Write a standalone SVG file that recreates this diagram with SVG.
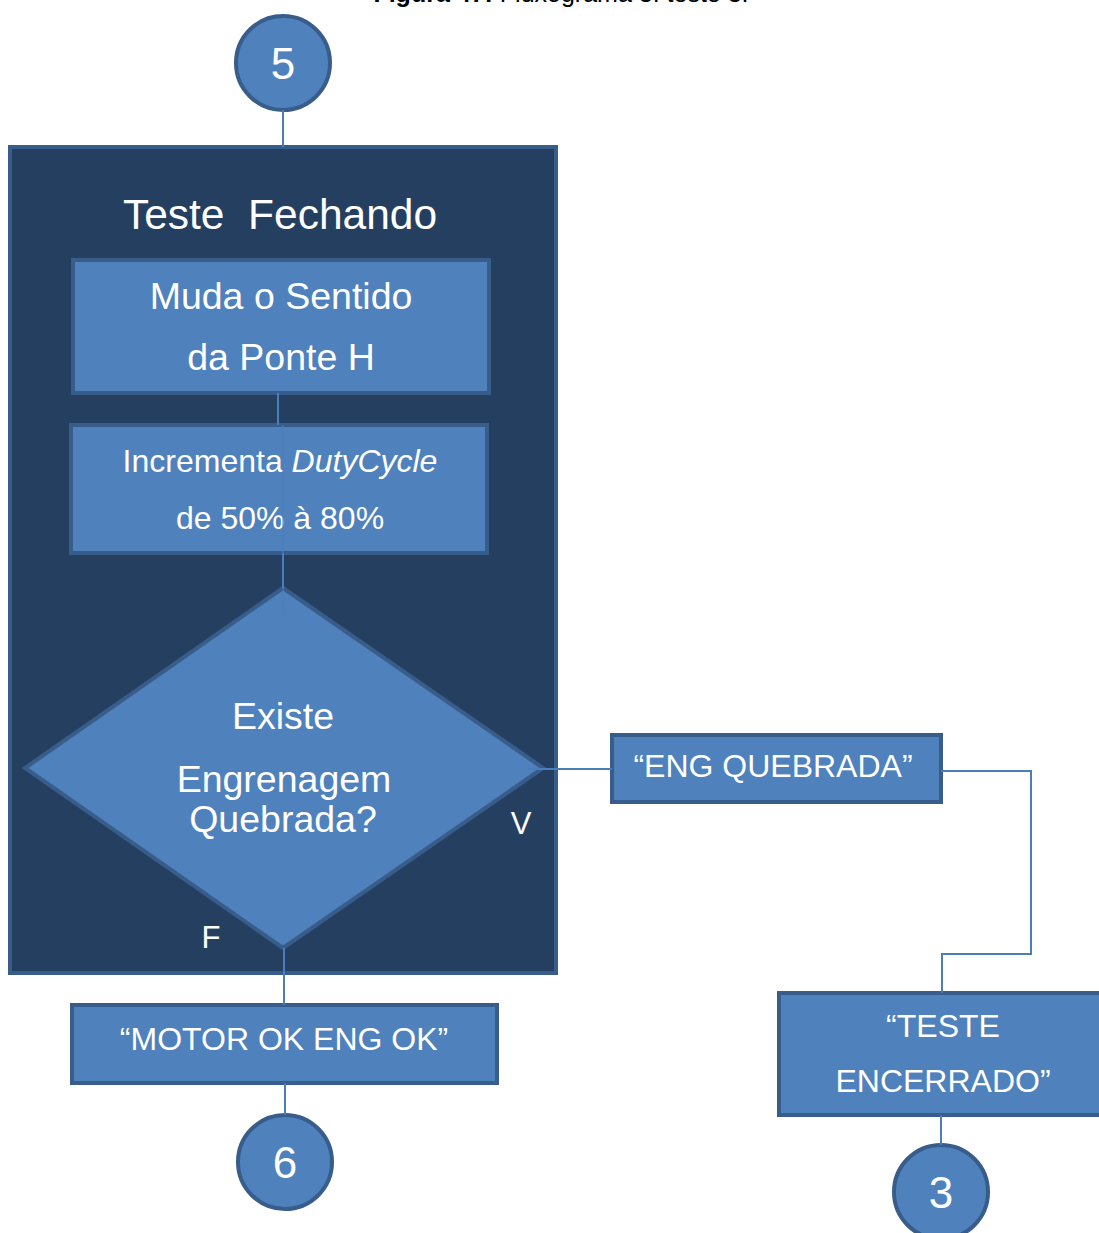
<svg xmlns="http://www.w3.org/2000/svg" width="1099" height="1233" viewBox="0 0 1099 1233">
  <style>
    .shape { fill: #4f81bd; stroke: #385d8a; stroke-width: 4; }
    .frame { fill: #253f60; stroke: #385d8a; stroke-width: 4; }
    .conn { fill: none; stroke: #4a7ebb; stroke-width: 2; }
    text { font-family: "Liberation Sans", Arial, sans-serif; fill: #ffffff; text-anchor: middle; }
    .cap { fill: #000000; font-size: 25px; }
  </style>
  <rect width="1099" height="1233" fill="#ffffff"/>

  <!-- caption, clipped at the top edge -->
  <text class="cap" x="561" y="2"><tspan font-weight="bold">Figura 47:</tspan> Fluxograma 3: teste 3.</text>

  <!-- container for the closing test -->
  <g id="teste-fechando">
    <rect class="frame" x="10" y="147" width="546" height="826"/>
    <text x="280" y="229" font-size="42.5" xml:space="preserve">Teste  Fechando</text>
  </g>

  <g id="conector-5">
    <circle class="shape" cx="283" cy="63" r="47"/>
    <text x="283" y="79" font-size="44">5</text>
  </g>

  <g id="muda-sentido">
    <rect class="shape" x="73" y="260" width="416" height="133"/>
    <text x="281" y="309" font-size="37.5">Muda o Sentido</text>
    <text x="281" y="370" font-size="37.5">da Ponte H</text>
  </g>

  <g id="incrementa">
    <rect class="shape" x="71" y="425" width="416" height="128"/>
    <text x="280" y="472" font-size="32">Incrementa <tspan font-style="italic">DutyCycle</tspan></text>
    <text x="280" y="529" font-size="32">de 50% à 80%</text>
  </g>

  <g id="decisao">
    <polygon class="shape" points="283,588 543,768 283,948 25,768"/>
    <text x="283" y="729" font-size="37.5">Existe</text>
    <text x="284" y="792" font-size="37.5">Engrenagem</text>
    <text x="283" y="832" font-size="37.5">Quebrada?</text>
    <text x="521" y="834" font-size="31">V</text>
    <text x="211" y="948" font-size="31">F</text>
  </g>

  <g id="eng-quebrada">
    <rect class="shape" x="612" y="735" width="329" height="67"/>
    <text x="773" y="777" font-size="32">“ENG QUEBRADA”</text>
  </g>

  <g id="teste-encerrado">
    <rect class="shape" x="779" y="993" width="330" height="122"/>
    <text x="943" y="1037" font-size="32">“TESTE</text>
    <text x="943" y="1092" font-size="32">ENCERRADO”</text>
  </g>

  <g id="motor-ok">
    <rect class="shape" x="72" y="1005" width="425" height="78"/>
    <text x="284" y="1050" font-size="32">“MOTOR OK ENG OK”</text>
  </g>

  <g id="conector-6">
    <circle class="shape" cx="285" cy="1162" r="47"/>
    <text x="285" y="1178" font-size="44">6</text>
  </g>

  <g id="conector-3">
    <circle class="shape" cx="941" cy="1192" r="47"/>
    <text x="941" y="1208" font-size="44">3</text>
  </g>

  <!-- connectors -->
  <g id="connectors">
    <line class="conn" x1="283" y1="110" x2="283" y2="147"/>
    <line class="conn" x1="278" y1="393" x2="278" y2="425"/>
    <line class="conn" x1="283" y1="425" x2="283" y2="612" stroke-opacity="0.5"/>
    <line class="conn" x1="283" y1="553" x2="283" y2="588"/>
    <line class="conn" x1="528" y1="769" x2="612" y2="769"/>
    <polyline class="conn" points="941,771 1031,771 1031,954 942,954 942,993"/>
    <line class="conn" x1="284" y1="948" x2="284" y2="1005"/>
    <line class="conn" x1="285" y1="1083" x2="285" y2="1115"/>
    <line class="conn" x1="941" y1="1115" x2="941" y2="1145"/>
  </g>
</svg>
